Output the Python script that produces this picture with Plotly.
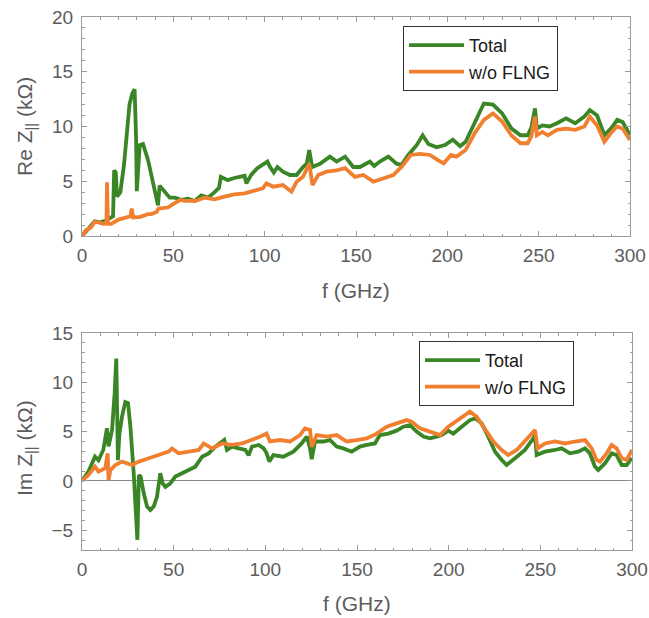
import plotly.graph_objects as go

W, H = 649, 618

# ---------- data ----------
# Top panel: Re Z (kOhm)
f_re_total = [0, 3, 7, 10, 13, 16, 17, 17.6, 18.5, 19.2, 21, 23, 25, 26, 27.5, 28.8, 29.6, 30,
              31.6, 33.4, 36.2, 38.9, 40.7, 41.6, 42.5, 45.3, 48, 50.7, 54.4, 58, 61.7, 65.3, 69,
              72.6, 75, 76, 79.8, 83.4, 87, 89, 90, 92.7, 96, 99, 101.5, 103, 105, 107, 110, 113.8,
              117.5, 121, 123, 124.4, 126, 130.3, 135.7, 139.4, 144, 148.5, 152.2, 157.6, 160,
              163.1, 167.7, 172.2, 175, 178.6, 183.2, 186.5, 189.6, 194.1, 198.7, 203, 207, 210,
              215, 220, 225, 230, 235, 240, 244, 246, 248, 249, 252, 256, 260, 265, 270, 275, 278,
              282, 286, 290, 293, 296, 300]
re_total = [0, 0.6, 1.35, 1.25, 1.4, 1.7, 1.8, 6.0, 5.8, 3.6, 4.0, 6.5, 10.0, 12.0, 13.0, 13.4, 9.0, 4.1,
            8.3, 8.4, 6.9, 4.8, 3.1, 2.8, 4.6, 4.0, 3.5, 3.5, 3.3, 3.4, 3.2, 3.7, 3.5,
            4.0, 4.4, 5.4, 5.1, 5.3, 5.4, 5.5, 4.8, 5.6, 6.2, 6.5, 6.8, 6.3, 5.8, 6.3, 5.87, 5.57,
            5.57, 6.3, 6.6, 7.85, 6.3, 6.6, 7.25, 6.8, 7.25, 6.3, 6.3, 6.8, 6.4,
            6.8, 7.25, 6.6, 6.5, 7.4, 8.3, 9.2, 8.4, 8.1, 8.3, 8.8, 8.2, 8.6,
            10.3, 12.1, 12.0, 11.2, 9.83, 9.2, 9.2, 9.9, 11.66, 9.8, 10.1, 10.0, 10.3, 10.75, 10.3, 10.9, 11.5,
            11.0, 9.2, 9.9, 10.6, 10.4, 9.2]

f_re_wo = [0, 2, 5, 7, 9, 12, 13.4, 13.7, 14.2, 16, 20, 25, 26.5, 27.2, 28, 32, 36, 38, 40.8, 42, 45.3,
           47, 50.7, 54, 56.2, 62, 67, 72.6, 78, 83.5, 89, 94.5, 99, 101, 104.7, 110, 114.7, 117.5,
           121, 124.4, 126.2, 129.3, 133.9, 139.4, 144, 149.4, 154, 159.5, 165, 170.4, 175, 180,
           185, 190.5, 195, 198, 202, 205, 210, 215, 220, 225, 230, 235, 240, 244, 246, 248, 249,
           252, 255, 260, 265, 270, 275, 278, 282, 286, 290, 293, 296, 300]
re_wo = [0, 0.5, 0.8, 1.3, 1.25, 1.1, 1.3, 4.9, 1.1, 1.1, 1.5, 1.7, 1.8, 2.5, 1.7, 1.75, 2.0, 2.0, 2.2, 2.5, 2.55,
         2.6, 3.0, 3.3, 3.2, 3.2, 3.5, 3.35, 3.6, 3.8, 3.9, 4.1, 4.35, 4.8, 4.5, 4.65, 4.05, 4.96,
         5.4, 6.6, 4.65, 5.57, 5.87, 6.0, 6.2, 5.4, 5.57, 4.96, 5.27, 5.57, 6.33, 7.4,
         7.5, 7.4, 6.9, 6.64, 7.4, 7.25, 7.85, 9.4, 10.6, 11.2, 10.45, 9.2, 8.47, 8.47, 9.1, 10.9, 9.2,
         9.5, 9.2, 9.7, 9.8, 9.7, 10.0, 10.9, 10.1, 8.6, 9.5, 10.0, 9.8, 8.77]

# Bottom panel: Im Z (kOhm)
f_im_total = [0, 3.5, 7.1, 9, 11.6, 13.6, 14.5, 16.4, 17.8, 18.7, 19.6, 20.4, 21.8, 23.6, 25.1, 26.4,
              28.2, 29.5, 30.2, 31, 31.8, 33.7, 35.5, 37.3, 39.1, 40.9, 42.7, 44, 45.5, 48.2, 50.9,
              54.6, 58.2, 61.8, 65.5, 69.1, 72.7, 76.4, 77.6, 79.1, 81.8, 85.5, 89.1, 90.9, 92.7,
              96.4, 99.1, 100.7, 102.2, 104.4, 109.8, 115.3, 119.8, 122.6, 124.4, 125.3, 127.1,
              131.6, 135.3, 138.9, 142.5, 147.1, 151.6, 155.3, 159.8, 162.5, 167.1, 171.6, 175.3,
              178.9, 182.5, 186.2, 189.8, 193.5, 196.2, 199.8, 202.5, 207.1, 211.6, 214.4, 218,
              221.6, 225.3, 228.9, 231.6, 236.2, 241.6, 246.2, 247.1, 248, 252.5, 258, 261.6,
              266.2, 270.7, 274.4, 277, 279.8, 281.6, 285.3, 288.9, 291.6, 294.4, 297.1, 300]
im_total = [0, 0.95, 2.46, 2.1, 3.14, 5.34, 3.5, 5.2, 8.9, 12.4, 2.1, 4.8, 6.5, 8.0, 7.9, 5.5,
            0.8, -3.95, -5.98, 0.45, 0.6, -1.25, -2.6, -2.94, -2.6, -1.6, 0.78, -0.24, -0.6, -0.24, 0.44,
            0.78, 1.1, 1.45, 2.46, 2.8, 3.48, 4.0, 4.15, 3.14, 3.48, 3.3, 3.14, 2.6, 3.48,
            3.65, 3.3, 2.8, 1.96, 2.63, 2.46, 2.97, 3.8, 4.5, 3.3, 2.2, 4.0,
            4.0, 4.15, 3.48, 3.3, 2.97, 3.48, 3.65, 3.8, 4.65, 4.8, 5.1, 5.5,
            5.67, 5.0, 4.5, 4.32, 4.5, 4.65, 5.1, 4.8, 5.5, 6.17, 6.35, 5.84,
            4.49, 2.97, 2.13, 1.62, 2.3, 3.14, 4.32, 4.65, 2.63, 2.97, 3.14, 3.3,
            2.8, 2.97, 3.3, 2.8, 1.45, 1.1, 1.8, 2.8, 2.63, 1.62, 1.62, 2.3]

f_im_wo = [0, 3.5, 7.1, 9, 12.7, 14, 14.5, 15.5, 18.2, 21.8, 27.3, 31, 36.4, 41.8, 47.3, 49.1, 52.7,
           58.2, 63.7, 66.4, 70.9, 76.4, 81.8, 87.3, 92.7, 97.3, 100.7, 102.5, 108, 113.5, 118.9,
           121.6, 124.4, 125.3, 128, 133.5, 138.9, 144.4, 149.8, 155.3, 160.7, 166.2, 171.6,
           177.1, 179.8, 184.4, 189.8, 195.3, 199.8, 202.5, 207.1, 211.6, 215.3, 219.8, 224.4,
           228.9, 232.5, 237.1, 241.6, 246.2, 247.1, 248.5, 252.5, 258, 263.5, 268.9, 274.4, 278,
           280.7, 282.5, 286.2, 288.9, 291.6, 294.4, 297.1, 300]
im_wo = [0, 0.6, 1.45, 0.95, 1.28, 2.8, 0.1, 1.1, 1.62, 1.96, 1.62, 1.96, 2.3, 2.6, 2.97, 3.3, 2.8,
         2.97, 3.14, 3.8, 3.3, 3.8, 3.65, 3.8, 4.15, 4.5, 4.8, 4.0, 4.15, 4.0, 4.65,
         5.33, 5.17, 3.48, 4.65, 4.5, 4.65, 4.0, 4.15, 4.32, 4.8, 5.5, 5.84,
         6.17, 6.0, 5.33, 5.0, 4.65, 5.5, 5.84, 6.35, 7.02, 6.5, 5.17, 3.99,
         3.14, 2.63, 3.14, 4.0, 5.0, 5.17, 3.3, 3.8, 4.0, 3.8, 4.0, 4.15, 3.3,
         2.13, 1.96, 2.8, 3.65, 3.3, 2.3, 2.13, 3.14]

series_names = ["Total", "w/o FLNG"]
x_ticks = [0, 50, 100, 150, 200, 250, 300]

# ---------- style ----------
GREEN = "#3a8626"
ORANGE = "#f07f2f"
FRAME = "#9a9a9a"
FONT = "Liberation Sans, Arial, sans-serif"
TICKFONT = dict(family=FONT, size=19, color="#5c5c5c")
TITLEFONT = dict(family=FONT, size=21, color="#5c5c5c")
LW = 3.8

fig = go.Figure()
fig.add_trace(go.Scatter(x=f_re_total, y=re_total, mode="lines", name=series_names[0],
                         line=dict(color=GREEN, width=LW), xaxis="x", yaxis="y", legend="legend"))
fig.add_trace(go.Scatter(x=f_re_wo, y=re_wo, mode="lines", name=series_names[1],
                         line=dict(color=ORANGE, width=LW), xaxis="x", yaxis="y", legend="legend"))
fig.add_trace(go.Scatter(x=f_im_total, y=im_total, mode="lines", name=series_names[0],
                         line=dict(color=GREEN, width=LW), xaxis="x2", yaxis="y2", legend="legend2"))
fig.add_trace(go.Scatter(x=f_im_wo, y=im_wo, mode="lines", name=series_names[1],
                         line=dict(color=ORANGE, width=LW), xaxis="x2", yaxis="y2", legend="legend2"))


def px_x(p):
    return p / W


def px_y(p):
    return 1 - p / H


common_axis = dict(showline=True, linecolor=FRAME, linewidth=1, mirror="allticks",
                   ticks="inside", ticklen=5, tickcolor=FRAME, tickwidth=1,
                   showgrid=False, tickfont=TICKFONT, automargin=False)

legend_common = dict(xanchor="left", yanchor="top",
                     bordercolor="#333333", borderwidth=1, bgcolor="white",
                     font=dict(family=FONT, size=18, color="#1a1a1a"),
                     itemwidth=55, tracegroupgap=0,
                     entrywidth=155, entrywidthmode="pixels")

fig.update_layout(
    width=W, height=H,
    margin=dict(l=0, r=0, t=0, b=0, pad=0, autoexpand=False),
    paper_bgcolor="white", plot_bgcolor="white",
    xaxis=dict(domain=[px_x(82), px_x(630)], range=[0, 300], anchor="y",
               tickvals=x_ticks, zeroline=False, ticklabelstandoff=2,
               minor=dict(ticks="inside", ticklen=2.5, dtick=10, tickcolor=FRAME, showgrid=False),
               **common_axis),
    yaxis=dict(domain=[px_y(236), px_y(17)], range=[0, 20], anchor="x",
               tickvals=[0, 5, 10, 15, 20], zeroline=False, ticklabelstandoff=4,
               minor=dict(ticks="inside", ticklen=2.5, dtick=1, tickcolor=FRAME, showgrid=False),
               **common_axis),
    xaxis2=dict(domain=[px_x(82), px_x(632)], range=[0, 300], anchor="y2",
                tickvals=x_ticks, zeroline=False, ticklabelstandoff=2,
                minor=dict(ticks="inside", ticklen=2.5, dtick=10, tickcolor=FRAME, showgrid=False),
                **common_axis),
    yaxis2=dict(domain=[px_y(550), px_y(333)], range=[-7, 15], anchor="x2",
                tickvals=[-5, 0, 5, 10, 15], ticktext=["\u22125", "0", "5", "10", "15"],
                zeroline=True, zerolinecolor="#8a8a8a", zerolinewidth=1, ticklabelstandoff=4,
                minor=dict(ticks="inside", ticklen=2.5, dtick=1, tickcolor=FRAME, showgrid=False),
                **common_axis),
    legend=dict(x=px_x(403), y=px_y(26), **legend_common),
    legend2=dict(x=px_x(419), y=px_y(341), **legend_common),
    showlegend=True,
    annotations=[
        dict(text="Re Z<sub>||</sub> (k\u03a9)", x=px_x(26), y=px_y(127), xref="paper", yref="paper",
             textangle=-90, showarrow=False, font=TITLEFONT, xanchor="center", yanchor="middle"),
        dict(text="f (GHz)", x=px_x(356), y=px_y(290), xref="paper", yref="paper",
             showarrow=False, font=TITLEFONT, xanchor="center", yanchor="middle"),
        dict(text="Im Z<sub>||</sub> (k\u03a9)", x=px_x(26), y=px_y(448), xref="paper", yref="paper",
             textangle=-90, showarrow=False, font=TITLEFONT, xanchor="center", yanchor="middle"),
        dict(text="f (GHz)", x=px_x(357), y=px_y(603), xref="paper", yref="paper",
             showarrow=False, font=TITLEFONT, xanchor="center", yanchor="middle"),
    ],
)

fig.write_html("out.html")
